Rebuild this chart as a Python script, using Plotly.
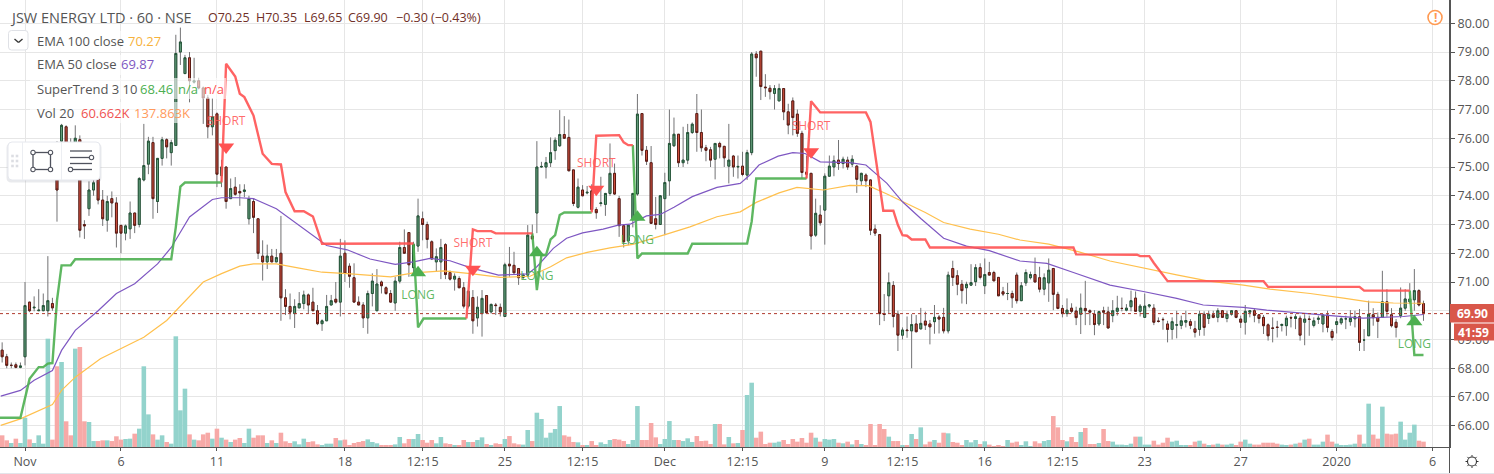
import plotly.graph_objects as go

first_bar = -5
opens = [68.63,68.4,68.1,68.12,68.03,68.4,70.3,70.1,70.0,70.0,70.0,70.25,74.8,75.9,76.4,75.8,75.8,75.95,73.0,73.55,74.2,74.6,73.85,73.15,73.9,73.75,72.97,72.7,72.85,73.4,73.0,74.55,75.1,75.85,73.8,75.3,75.95,75.5,75.75,79.0,78.25,78.8,77.95,78.0,77.75,77.4,76.4,76.85,74.7,75.0,73.9,74.3,74.15,74.15,73.2,73.8,73.2,71.9,71.7,71.9,71.7,72.0,70.45,70.15,69.9,70.1,70.25,70.55,70.3,70.0,69.55,69.65,70.2,70.4,70.3,72.0,71.55,71.15,70.3,70.2,69.75,
70.6,70.0,71.0,70.8,70.6,70.27,71.03,72.2,72.72,71.5,72.25,73.2,73.0,72.4,71.7,71.7,72.3,71.33,71.1,71.12,70.8,70.16,70.46,69.75,69.9,70.53,69.96,70.2,70.12,69.8,71.62,71.58,71.47,71.16,71.24,72.6,73.4,75.0,75.0,75.15,75.57,75.74,76.13,76.03,74.9,73.6,74.2,74.1,74.17,73.52,73.73,73.7,74.08,74.78,73.9,72.96,72.43,73.2,74.06,76.86,75.58,75.15,73.2,73.0,73.9,74.52,75.74,76.14,75.15,75.24,76.2,76.86,76.2,75.67,75.6,75.27,75.82,75.72,75.03,75.38,75.0,
75.03,74.72,75.5,78.93,79.03,77.78,77.74,77.56,77.3,77.73,76.92,77.3,76.84,76.17,74.82,74.78,72.63,73.33,73.5,74.68,75.0,75.24,75.12,75.24,75.1,75.03,74.52,74.72,74.55,72.84,72.65,69.9,70.52,70.88,69.88,69.15,69.33,69.3,69.54,69.37,69.64,69.54,69.62,69.78,69.77,69.3,71.47,71.22,70.92,70.8,70.89,71.01,71.5,70.87,71.33,71.33,71.16,70.66,70.6,70.6,71.24,70.35,70.97,71.15,71.26,71.15,70.75,70.97,71.47,70.57,70.08,69.9,70.09,69.99,69.88,70.08,70.0,69.88,69.54,70.0,69.96,
69.83,69.98,70.08,70.02,70.14,70.44,69.98,69.77,70.16,70.09,69.64,69.7,69.54,69.35,69.5,69.49,69.6,69.62,69.37,69.35,69.88,69.73,69.86,69.77,70.0,69.73,69.88,70.0,69.71,69.6,69.95,70.0,69.86,69.77,69.51,69.4,69.43,69.49,69.48,69.76,69.73,69.74,69.6,69.71,69.49,69.7,69.54,69.85,69.28,69.52,69.58,69.72,69.62,69.72,69.79,68.98,69.13,69.86,69.77,69.77,70.31,69.86,69.6,69.83,70.09,70.31,70.38,70.7,70.25]
highs = [68.9,68.5,68.2,68.2,68.2,71.0,70.3,70.5,70.75,70.6,71.9,70.45,75.9,76.5,76.45,76.0,76.45,76.1,73.15,74.5,74.7,74.7,74.2,74.0,74.15,73.95,72.97,73.0,73.8,73.4,74.65,76.5,76.05,76.05,75.3,76.05,76.0,75.95,79.6,79.85,78.9,79.0,78.8,78.1,77.8,77.5,77.4,76.9,75.25,75.0,74.6,74.65,74.4,74.4,74.0,73.9,73.2,72.45,72.3,72.15,72.15,73.3,70.75,70.6,70.4,70.65,70.7,70.6,70.8,70.2,69.7,70.55,70.55,71.0,72.5,72.45,71.65,71.65,70.5,70.3,70.7,
71.3,71.45,71.05,70.85,70.72,71.18,72.4,72.83,72.72,72.4,73.9,73.45,73.1,72.45,72.17,72.5,72.35,71.4,71.3,71.2,71.0,70.68,70.72,70.5,70.72,70.53,70.25,70.27,70.25,71.67,72.22,72.05,71.47,71.3,72.98,73.0,75.9,75.18,75.35,76.03,76.03,76.98,76.77,76.65,74.9,74.6,74.37,74.34,74.4,73.6,74.66,74.1,75.82,75.12,74.0,72.96,72.98,74.1,77.54,76.86,75.73,75.73,73.96,74.0,74.8,77.0,76.72,76.14,76.4,76.5,76.55,77.54,77.0,75.77,75.7,75.82,75.88,75.6,76.5,75.42,75.4,
75.53,75.6,79.0,79.03,79.03,78.23,77.85,77.85,77.9,77.73,77.2,77.42,77.0,76.26,75.4,74.78,73.9,73.67,74.78,75.4,75.4,75.94,75.36,75.36,75.41,75.07,74.8,74.78,74.57,73.0,72.65,70.58,71.33,71.03,70.0,69.42,69.8,69.88,69.85,70.1,69.97,69.68,70.2,69.85,70.1,71.36,71.74,71.41,71.07,71.01,71.62,71.62,71.65,71.82,71.7,71.39,71.16,70.83,70.97,70.7,71.33,71.0,71.44,71.36,71.85,71.53,71.3,71.82,71.47,70.66,70.2,70.43,70.26,70.14,70.6,71.04,70.05,70.02,70.0,70.14,70.14,
70.37,70.52,70.46,70.23,70.7,70.67,70.23,70.6,70.23,70.23,69.77,69.77,69.65,69.77,70.0,69.83,70.0,69.71,69.65,70.0,69.98,70.0,70.0,70.09,70.0,70.0,70.02,70.02,69.83,70.2,70.02,70.09,69.88,69.85,69.56,69.77,69.65,69.56,69.83,69.83,69.88,69.83,69.88,69.83,69.77,69.83,69.88,70.0,69.36,69.77,69.77,69.83,70.02,70.0,70.06,69.36,70.35,70.09,69.94,71.39,70.75,70.09,69.71,70.81,70.75,70.96,71.45,70.75,70.35]
lows = [68.2,68.0,68.0,68.0,68.0,68.1,69.95,69.98,70.0,70.0,69.8,70.0,73.1,75.7,75.5,75.4,75.6,72.55,72.5,73.3,74.0,73.7,72.95,72.75,73.25,72.2,72.0,72.45,72.5,72.7,72.9,74.5,74.75,73.2,73.4,75.05,75.3,75.05,75.75,78.55,78.25,77.25,77.9,77.7,76.5,76.0,76.1,74.3,74.3,73.55,73.9,74.0,73.65,73.95,73.0,72.7,71.8,71.05,71.45,71.7,71.7,69.65,69.85,69.7,69.4,70.1,70.05,69.9,70.0,69.5,69.3,69.65,70.2,70.25,69.8,71.0,70.8,70.3,70.2,69.4,69.2,
70.15,70.0,70.6,70.55,70.27,70.0,70.95,72.0,71.18,71.28,72.05,72.45,72.17,71.8,71.35,71.1,71.1,71.05,70.7,70.8,70.08,70.08,69.2,69.45,69.1,69.9,69.9,69.85,69.8,69.8,71.18,71.3,70.9,71.1,71.2,72.5,72.7,74.98,74.6,75.0,75.25,75.7,75.98,74.85,73.64,73.56,73.98,74.05,73.48,73.2,73.63,73.3,74.0,74.03,72.57,72.2,72.28,72.9,74.0,75.4,75.07,73.02,72.83,73.0,72.63,74.0,75.7,75.0,75.0,75.1,76.15,75.53,75.53,75.2,75.0,74.57,75.3,75.0,74.43,74.66,74.6,
74.68,74.55,75.41,78.14,77.33,77.44,77.35,77.0,77.3,76.63,76.14,76.1,76.05,74.6,74.6,72.13,72.57,72.96,72.3,74.68,74.68,74.9,74.95,74.9,75.0,74.1,74.37,74.3,72.63,72.6,69.5,69.64,69.9,69.42,68.6,69.0,69.06,68.0,69.25,69.35,69.33,68.83,69.2,69.21,69.21,69.21,70.86,70.54,70.25,70.23,70.86,70.86,71.09,70.58,71.24,71.04,70.52,70.51,70.37,70.1,70.25,70.35,70.86,71.09,71.0,70.64,70.54,70.31,70.02,70.05,69.77,69.79,69.91,69.5,69.19,69.5,69.5,69.15,69.47,69.5,69.39,
69.6,69.83,69.98,69.98,69.98,69.98,69.8,69.77,70.09,69.5,69.59,69.34,68.9,69.0,69.04,69.36,69.42,69.36,69.07,69.13,69.13,69.54,69.74,69.6,69.77,69.6,69.83,69.74,69.4,69.17,69.77,69.6,69.56,69.19,68.96,68.9,69.07,69.28,69.13,69.42,69.36,68.96,68.8,69.13,69.42,69.54,69.25,69.25,68.96,69.21,69.51,69.36,69.48,69.42,68.6,68.6,69.13,69.48,69.05,69.76,69.79,69.42,69.07,69.74,70.0,70.23,70.0,70.15,69.65]
closes = [68.4,68.1,68.1,68.03,68.08,70.18,70.0,70.12,70.02,70.18,70.35,70.1,74.2,76.45,75.8,75.5,76.0,72.8,72.95,74.2,74.45,73.85,73.2,73.8,73.75,72.7,72.7,72.95,73.4,72.97,74.6,75.05,75.9,73.9,75.3,75.95,75.7,75.85,78.95,79.35,78.8,78.0,78.0,77.75,77.4,76.4,76.75,74.75,75.0,73.8,74.25,74.05,74.1,74.2,73.9,73.25,72.0,71.7,71.9,71.7,71.85,70.45,70.15,69.95,70.15,70.25,70.55,70.2,70.0,69.55,69.65,70.15,70.35,70.3,71.9,71.3,71.2,70.3,70.2,69.75,70.6,
71.03,70.93,70.87,70.6,70.3,71.03,72.2,72.0,71.6,72.3,73.3,73.0,72.48,71.8,71.88,72.2,71.26,71.1,71.2,70.8,70.16,70.68,69.65,70.12,70.43,69.93,70.22,70.18,69.96,71.6,71.56,71.32,71.15,71.24,72.63,72.5,75.0,75.02,75.15,75.5,75.93,76.13,76.0,74.87,73.73,74.3,74.0,74.12,73.52,73.41,73.75,74.08,74.78,74.06,72.96,72.4,72.98,74.08,76.84,75.58,75.2,73.04,73.0,74.0,74.46,75.82,76.14,75.15,75.24,76.2,76.49,76.2,75.67,75.58,75.24,75.82,75.7,75.32,75.24,75.0,75.02,
74.74,75.5,78.93,78.8,77.8,77.76,77.62,77.73,77.73,76.92,76.46,76.72,76.17,74.81,74.75,72.6,73.39,73.06,74.68,75.03,75.22,75.12,75.27,75.0,75.27,74.57,74.78,74.52,72.8,72.7,69.9,69.87,70.98,69.8,69.15,69.33,69.31,69.52,69.27,69.56,69.5,69.44,69.77,69.71,69.3,71.24,71.16,70.92,70.7,70.92,70.98,71.5,71.16,71.26,71.24,71.04,70.52,70.58,70.6,70.45,70.35,70.87,71.33,71.26,71.0,70.75,71.15,71.41,70.57,70.08,69.9,70.02,69.98,69.76,70.09,70.0,69.95,69.52,69.97,69.95,69.4,
70.0,70.09,70.08,70.09,70.35,69.98,70.16,70.16,70.2,69.6,69.63,69.69,69.35,69.62,69.51,69.65,69.66,69.49,69.25,69.88,69.42,69.88,69.77,70.0,69.77,69.88,70.0,69.77,69.6,69.98,70.0,69.84,69.73,69.48,69.13,69.39,69.42,69.52,69.74,69.75,69.79,69.15,69.71,69.7,69.65,69.74,69.85,69.42,69.07,69.62,69.72,69.72,69.74,69.79,68.9,68.98,69.88,69.76,69.63,70.31,69.98,69.48,69.42,70.09,70.41,70.41,70.7,70.2,69.9]
volumes_k = [133,76,46,95,46,334,87,46,133,38,1235,84,920,969,293,133,1121,1140,293,285,68,68,76,76,68,122,84,91,95,152,209,920,372,144,84,133,57,38,1262,418,665,144,84,76,144,163,95,209,106,84,57,84,103,46,209,106,133,133,46,76,46,163,65,46,65,30,95,57,65,30,19,38,38,103,76,84,19,46,57,68,87,
57,42,23,15,15,30,114,42,91,91,148,80,49,80,42,114,42,34,19,23,80,57,57,80,110,34,23,42,34,91,125,42,30,27,194,68,391,319,106,163,205,467,133,118,57,53,19,19,68,23,53,34,80,91,84,68,34,80,467,80,80,274,110,34,91,296,80,80,68,99,57,125,68,72,34,262,262,30,114,42,46,
194,593,733,106,175,34,49,49,61,80,34,91,61,103,49,163,106,61,91,84,91,49,42,61,30,80,34,19,262,19,262,205,118,68,68,19,19,148,91,224,30,61,80,49,163,156,57,49,23,80,53,80,34,65,27,11,19,11,80,49,61,23,65,11,65,42,68,80,353,224,80,65,114,57,171,217,34,34,46,205,68,
61,27,27,15,38,118,118,27,27,72,27,49,106,61,72,15,15,15,61,72,38,15,27,38,27,27,38,15,61,84,38,27,27,49,49,49,38,27,15,27,38,49,84,95,27,27,61,141,61,38,15,15,27,38,141,38,494,141,95,460,152,144,152,289,84,163,255,72,61]

ema50_bar = [-5.3,-1,2,6,8,11,16,20,24,29,32,36,41,43,47,50,55,60,63,66,70.5,75.5,81,85,88.6,93,97.4,103.6,110,112,115.6,118.5,122,126.5,129.8,132.4,136,139,142,146,151.4,156.5,158.6,160.6,164.8,168,170.7,174,180.5,184,188.6,192,196,201,206,211,217.7,223.6,229.4,237.4,244.7,252,257.8,266.6,271.7,275.3,281.2,287,292.8,298,301.6,306]
ema50_val = [67.03,67.23,67.58,67.92,68.62,69.32,70.0,70.6,70.94,71.63,72.2,73.26,73.87,73.93,73.93,73.9,73.55,72.97,72.62,72.27,72.12,71.8,71.61,71.7,71.82,71.74,71.5,71.24,71.28,71.53,72.17,72.52,72.71,72.84,72.98,73.01,73.3,73.35,73.6,73.97,74.29,74.43,74.72,75.07,75.38,75.5,75.47,75.18,75.15,75.07,74.43,73.79,73.21,72.52,72.25,72.09,71.73,71.65,71.33,70.89,70.67,70.43,70.2,70.12,70.02,69.97,69.87,69.81,69.74,69.79,69.8,69.87]
ema100_bar = [-5.3,-1,6,8,11,16.5,21.7,26,31,35.5,39,43,47,50,55,60,65,70.5,75.5,80,85,91.6,98,104,110.5,115,118.5,123,128,133,139.7,145.5,151.4,156.5,160,165,168.9,174.7,180.5,184.5,188.6,192,197,201,206.8,213,217.7,224,230.6,237.4,244.7,252,259,266.6,272.4,281.2,288.5,294,299.4,306]
ema100_val = [66.01,66.24,66.74,67.23,67.69,68.33,68.74,69.08,69.66,70.42,71.0,71.29,71.55,71.63,71.63,71.48,71.34,71.29,71.24,71.18,71.32,71.39,71.28,71.16,71.2,71.53,71.84,72.03,72.19,72.31,72.63,72.92,73.27,73.44,73.77,74.1,74.29,74.2,74.36,74.35,74.06,73.79,73.42,73.07,72.84,72.66,72.46,72.32,72.05,71.73,71.48,71.25,71.03,70.89,70.75,70.6,70.44,70.31,70.27,70.26]

st_green_bar = [-5.5,-1,1,3,4,5,6,7,8,10,11,32,33,34,35,43,None,85,86,87.2,96.6,None,111,112,113,114,115,116,117,118,124,None,133,134,135,145,146,158,159,160,170,171,None,303,304,306]
st_green_val = [66.28,66.28,67.63,68.04,68.04,68.16,68.18,70.36,71.58,71.58,71.79,71.79,72.91,74.32,74.46,74.46,None,72.34,69.42,69.73,69.73,None,72.69,70.72,71.94,71.94,72.48,72.63,73.33,73.42,73.42,None,75.76,71.82,71.99,71.99,72.33,72.34,73.1,74.6,74.6,74.6,None,70.7,68.46,68.46]
st_red_bar = [43,44,46,47,48,50,52,54,56,57,59,61,63,65,85,None,96.6,98,99,102,103,111,None,124,125,130,131,132,133,None,171,172,174,184,185,187.8,190,191,192,193,194,197,198,229.4,230,243.3,244,246,247,248,250,271,272,292,293,303]
st_red_val = [74.46,78.59,78.15,77.55,77.43,76.79,75.46,75.11,75.09,74.13,73.46,73.46,73.28,72.33,72.34,None,69.73,72.83,72.77,72.77,72.69,72.69,None,73.42,76.09,76.11,75.86,75.76,75.76,None,74.6,77.29,76.9,76.9,76.57,73.48,73.48,72.98,72.63,72.61,72.48,72.48,72.2,72.2,71.96,71.95,71.9,71.9,71.66,71.45,71.03,71.03,70.83,70.83,70.7,70.7]

short_bar = [44,98,125,172]
short_marker = [75.7,71.44,74.23,75.53]
short_text_y = [76.56,72.31,75.12,76.4]
long_bar = [86,112,134,304]
long_marker = [71.32,72.02,73.25,69.62]
long_text_y = [70.52,71.18,72.42,68.8]

tick_bars = [0,21,42,70,87,105,122,140,157,175,192,210,227,245,266,287,308]
tick_text = ["Nov","6","11","18","12:15","25","12:15","Dec","12:15","9","12:15","16","12:15","23","27","2020","6"]
price_ticks = [66,67,68,69,70,71,72,73,74,75,76,77,78,79,80]
last_close = 69.90
countdown = "41:59"

W, H, PW, PH = 1494, 474, 1450, 447
bars = list(range(first_bar, first_bar + len(opens)))
px = lambda x: x / PW
py = lambda y: 1 - y / PH
body_hi = [max(o, c) for o, c in zip(opens, closes)]
body_lo = [min(o, c) for o, c in zip(opens, closes)]
vol_colors = ["#93d3cc" if c >= o else "#f7a9a7" for o, c in zip(opens, closes)]
FONT = "Open Sans, Noto Sans, sans-serif"
TXT = "#555555"

fig = go.Figure()
fig.add_bar(x=bars, y=volumes_k, marker=dict(color=vol_colors, line_width=0), width=1.0, yaxis="y", hoverinfo="skip")
fig.add_candlestick(x=bars, open=opens, high=highs, low=lows, close=closes, yaxis="y2", whiskerwidth=0,
                    increasing=dict(line=dict(color="#737375", width=1), fillcolor="rgba(0,0,0,0)"),
                    decreasing=dict(line=dict(color="#737375", width=1), fillcolor="rgba(0,0,0,0)"), hoverinfo="skip")
fig.add_candlestick(x=bars, open=opens, high=body_hi, low=body_lo, close=closes, yaxis="y2", whiskerwidth=0,
                    increasing=dict(line=dict(color="#225437", width=1), fillcolor="#6ba583"),
                    decreasing=dict(line=dict(color="#5b1a13", width=1), fillcolor="#d75442"), hoverinfo="skip")
fig.add_scatter(x=ema100_bar, y=ema100_val, mode="lines", yaxis="y2", line=dict(color="#ffc04d", width=1.2), hoverinfo="skip")
fig.add_scatter(x=ema50_bar, y=ema50_val, mode="lines", yaxis="y2", line=dict(color="#7e57c2", width=1.2), hoverinfo="skip")
fig.add_scatter(x=st_green_bar, y=st_green_val, mode="lines", yaxis="y2", line=dict(color="rgba(76,175,80,0.9)", width=2.4), connectgaps=False, hoverinfo="skip")
fig.add_scatter(x=st_red_bar, y=st_red_val, mode="lines", yaxis="y2", line=dict(color="rgba(255,82,82,0.9)", width=2.4), connectgaps=False, hoverinfo="skip")
fig.add_scatter(x=short_bar, y=short_marker, mode="markers", yaxis="y2", hoverinfo="skip",
                marker=dict(symbol="triangle-down", size=14, color="#ff5252", line_width=0))
fig.add_scatter(x=long_bar, y=long_marker, mode="markers", yaxis="y2", hoverinfo="skip",
                marker=dict(symbol="triangle-up", size=14, color="#4caf50", line_width=0))
fig.add_scatter(x=short_bar, y=short_text_y, mode="text", yaxis="y2", text=["SHORT"] * 4, hoverinfo="skip",
                textfont=dict(family=FONT, size=12, color="rgba(255,82,82,0.85)"), textposition="middle center")
fig.add_scatter(x=long_bar, y=long_text_y, mode="text", yaxis="y2", text=["LONG"] * 4, hoverinfo="skip",
                textfont=dict(family=FONT, size=12, color="rgba(76,175,80,0.9)"), textposition="middle center")

shapes, annots = [], []

def rect(x0, y0, x1, y1, fill, line="rgba(0,0,0,0)", lw=0, r=0):
    if r:
        p = (f"M {px(x0+r)} {py(y0)} L {px(x1-r)} {py(y0)} Q {px(x1)} {py(y0)} {px(x1)} {py(y0+r)} "
             f"L {px(x1)} {py(y1-r)} Q {px(x1)} {py(y1)} {px(x1-r)} {py(y1)} L {px(x0+r)} {py(y1)} "
             f"Q {px(x0)} {py(y1)} {px(x0)} {py(y1-r)} L {px(x0)} {py(y0+r)} Q {px(x0)} {py(y0)} {px(x0+r)} {py(y0)} Z")
        shapes.append(dict(type="path", xref="paper", yref="paper", path=p, fillcolor=fill, line=dict(color=line, width=lw), layer="above"))
    else:
        shapes.append(dict(type="rect", xref="paper", yref="paper", x0=px(x0), x1=px(x1), y0=py(y0), y1=py(y1),
                           fillcolor=fill, line=dict(color=line, width=lw), layer="above"))

def seg(x0, y0, x1, y1, color, lw=1):
    shapes.append(dict(type="line", xref="paper", yref="paper", x0=px(x0), x1=px(x1), y0=py(y0), y1=py(y1),
                       line=dict(color=color, width=lw), layer="above"))

def circle(cx, cy, r, fill, line, lw):
    shapes.append(dict(type="circle", xref="paper", yref="paper", x0=px(cx - r), x1=px(cx + r), y0=py(cy - r), y1=py(cy + r),
                       fillcolor=fill, line=dict(color=line, width=lw), layer="above"))

def label(x, y, text, color=TXT, size=13, anchor="left", bold=False, bg=None):
    annots.append(dict(xref="paper", yref="paper", x=px(x), y=py(y), text=f"<b>{text}</b>" if bold else text, showarrow=False,
                       xanchor=anchor, yanchor="middle", borderpad=0, bgcolor=bg,
                       font=dict(family=FONT, size=size, color=color)))

# last-price line
shapes.append(dict(type="line", xref="paper", yref="y2", x0=0, x1=1, y0=last_close, y1=last_close,
                   line=dict(color="#b03a2e", width=1, dash="dot"), layer="above"))

# legend backdrops
rect(30, 31, 162, 51, "rgba(255,255,255,0.6)")
rect(30, 55, 156, 75, "rgba(255,255,255,0.6)")
rect(30, 78, 226, 99, "rgba(255,255,255,0.6)")
rect(30, 102, 188, 123, "rgba(255,255,255,0.6)")

# header
label(9, 17, "JSW ENERGY LTD · 60 · NSE", "#555555", 14.5)
for x, t in [(207, "O70.25"), (255, "H70.35"), (303, "L69.65"), (347, "C69.90"), (395, "−0.30"), (430, "(−0.43%)")]:
    label(x, 17.5, t, "#6f3028", 12.5)
rect(8.5, 30.5, 28, 50, "#ffffff", "#dfe1e6", 1, r=3)
seg(14.5, 39, 18.5, 42.5, "#333333", 1.3)
seg(18.5, 42.5, 22.5, 39, "#333333", 1.3)
label(36, 40.5, "EMA 100 close"); label(127, 40.5, "70.27", "#f7b23b")
label(36, 64.5, "EMA 50 close"); label(120, 64.5, "69.87", "#7e57c2")
label(36, 88.5, "SuperTrend 3 10"); label(139, 88.5, "68.46", "#4caf50")
label(177, 88.5, "n/a", "#4caf50"); label(203, 88.5, "n/a", "#ff5252")
label(36, 112.5, "Vol 20"); label(80, 112.5, "60.662K", "#ef5350"); label(133, 112.5, "137.863K", "#ff9a5c")

# floating toolbar
rect(6.5, 143, 101.5, 182.5, "rgba(120,125,140,0.16)", r=5)
rect(8, 142, 100, 180, "#ffffff", "#e6e8ee", 1, r=4)
seg(22.5, 142, 22.5, 180, "#eceef2"); seg(61.5, 142, 61.5, 180, "#eceef2")
for gx in (12.5, 17):
    for gy in (156, 161, 166):
        rect(gx - 1.3, gy - 1.3, gx + 1.3, gy + 1.3, "#dcdee3")
ICON = "#50535e"
seg(33, 152.5, 50.5, 152.5, ICON, 1.3); seg(33, 169.5, 50.5, 169.5, ICON, 1.3)
seg(33, 152.5, 33, 169.5, ICON, 1.3); seg(50.5, 152.5, 50.5, 169.5, ICON, 1.3)
for cx, cy in [(33, 152.5), (50.5, 152.5), (33, 169.5), (50.5, 169.5)]:
    circle(cx, cy, 2.2, "#ffffff", ICON, 1.1)
seg(70, 151, 92, 151, ICON, 1.3); seg(70, 157.5, 90, 157.5, ICON, 1.3)
seg(70, 163.5, 92, 163.5, ICON, 1.3); seg(72, 169.5, 92, 169.5, ICON, 1.3)
circle(91.5, 157.5, 2.2, "#ffffff", ICON, 1.1); circle(70.5, 169.5, 2.2, "#ffffff", ICON, 1.1)

# alert icon
circle(1435, 17.5, 7, "#ffffff", "#ff9a52", 1.6)
label(1435, 17.5, "!", "#ff9a52", 12, "center", True)

# price labels
rect(1450, 304, 1494, 322.5, "#d9574a")
rect(1454, 323.5, 1494, 340.5, "#d9574a")
label(1472, 313, f"{last_close:.2f}", "#ffffff", 12, "center", True)
label(1474, 332, countdown, "#ffffff", 12, "center", True)

# axis frame and gear
seg(1449.5, 0, 1449.5, 474, "#555555")
circle(1472, 461.5, 4.5, "#ffffff", "#333333", 1.1)
for dx, dy in [(0, 6.5), (0, -6.5), (6.5, 0), (-6.5, 0), (4.6, 4.6), (-4.6, 4.6), (4.6, -4.6), (-4.6, -4.6)]:
    seg(1472 + dx * 0.75, 461.5 + dy * 0.75, 1472 + dx, 461.5 + dy, "#333333", 1)
rect(0, 473, 1494, 474, "#e3e5ea")

fig.update_layout(
    width=W, height=H, autosize=False, showlegend=False, hovermode=False, dragmode=False,
    margin=dict(l=0, r=W - PW, t=0, b=H - PH), paper_bgcolor="#ffffff", plot_bgcolor="#ffffff",
    boxmode="overlay", boxgap=0.4, barmode="overlay", shapes=shapes, annotations=annots,
    font=dict(family=FONT, size=12.5, color=TXT),
    xaxis=dict(range=[-5.47, 311.8], tickmode="array", tickvals=tick_bars, ticktext=tick_text, showgrid=True,
               gridcolor="#e6e6e6", gridwidth=1, zeroline=False, showline=True, linecolor="#555555", linewidth=1,
               ticks="outside", ticklen=3, tickcolor="#555555", rangeslider=dict(visible=False), fixedrange=True,
               tickfont=dict(size=12.5, color=TXT)),
    yaxis=dict(range=[0, 5096], showgrid=False, showticklabels=False, zeroline=False, ticks="", fixedrange=True),
    yaxis2=dict(range=[65.26, 80.81], overlaying="y", side="right", anchor="x", tickmode="array", tickvals=price_ticks,
                tickformat=".2f", showgrid=True, gridcolor="#e6e6e6", gridwidth=1, zeroline=False, showline=True,
                linecolor="#555555", linewidth=1, ticks="outside", ticklen=4, tickcolor="#555555", fixedrange=True,
                tickfont=dict(size=12.5, color=TXT)),
)
fig.write_html("out.html", post_script="document.body.style.margin='0';document.body.style.overflow='hidden';",
               config=dict(displayModeBar=False))
